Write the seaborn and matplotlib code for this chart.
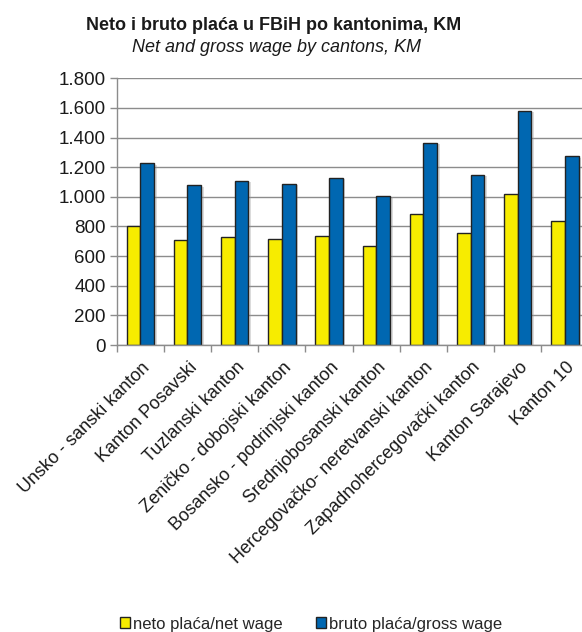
import seaborn as sns
import numpy as np
import matplotlib
matplotlib.use("Agg")
import matplotlib.pyplot as plt
import matplotlib.patheffects as pe
import matplotlib.transforms as mtransforms
from matplotlib.patches import Patch
from matplotlib.ticker import FuncFormatter
import pandas as pd

kantoni = ["Unsko - sanski kanton", "Kanton Posavski", "Tuzlanski kanton",
           "Zeničko - dobojski kanton", "Bosansko - podrinjski kanton",
           "Srednjobosanski kanton", "Hercegovačko- neretvanski kanton",
           "Zapadnohercegovački kanton", "Kanton Sarajevo", "Kanton 10"]
neto = [805, 706, 729, 713, 738, 670, 886, 756, 1021, 837]
bruto = [1226, 1078, 1109, 1087, 1129, 1008, 1363, 1149, 1581, 1273]
serije = ["neto plaća/net wage", "bruto plaća/gross wage"]
boje = ["#F7EC00", "#0067B1"]

df = pd.DataFrame({
    "kanton": kantoni * 2,
    "vrijednost": neto + bruto,
    "serija": [serije[0]] * len(kantoni) + [serije[1]] * len(kantoni),
})

sns.set_style("white")
plt.rcParams['font.family'] = ['Liberation Sans', 'DejaVu Sans']

fig = plt.figure(figsize=(5.82, 6.32), dpi=100)
ax = fig.add_axes((0.2005, 0.4541, 0.8107, 0.4221))

sns.barplot(data=df, x="kanton", y="vrijednost", hue="serija",
            palette=boje, saturation=1, width=0.58, edgecolor="#222222",
            linewidth=1.0, ax=ax, legend=False)

# blaga sjena iza stupaca
for p in ax.patches:
    p.set_path_effects([pe.SimplePatchShadow(offset=(2, -1), shadow_rgbFace="#999999", alpha=0.35),
                        pe.Normal()])

ax.set_ylim(0, 1800)
ax.set_xlim(-0.5, len(kantoni) - 0.5)
ax.set_yticks(np.arange(0, 1801, 200))
ax.yaxis.set_major_formatter(FuncFormatter(lambda v, _: f"{int(v):,}".replace(",", ".")))
ax.yaxis.grid(True, color="#8c8c8c", linewidth=1.0)
ax.set_axisbelow(True)
ax.set_xlabel("")
ax.set_ylabel("")

for s in ["top", "right"]:
    ax.spines[s].set_visible(False)
for s in ["left", "bottom"]:
    ax.spines[s].set_color("#8c8c8c")
    ax.spines[s].set_linewidth(1.0)

ax.tick_params(axis="y", left=True, length=5, width=1, color="#8c8c8c",
               labelsize=13.5, pad=3, labelcolor="#1a1a1a")
ax.set_xticks(np.arange(-0.5, len(kantoni), 1.0), minor=True)
ax.tick_params(axis="x", which="minor", bottom=True, length=5, width=1, color="#8c8c8c")
ax.tick_params(axis="x", which="major", bottom=False, length=0, pad=10)
ax.set_xticks(range(len(kantoni)))
ax.set_xticklabels(kantoni, rotation=45, ha="right", rotation_mode="anchor",
                   fontsize=13, color="#1a1a1a")
pomak = mtransforms.ScaledTranslation(1 / 100, 0, fig.dpi_scale_trans)
for lbl in ax.get_xticklabels():
    lbl.set_transform(lbl.get_transform() + pomak)

fig.text(274 / 582, 1 - 25 / 632, "Neto i bruto plaća u FBiH po kantonima, KM",
         ha="center", va="center", fontsize=13, fontweight="bold", color="#1a1a1a")
fig.text(277 / 582, 1 - 47.5 / 632, "Net and gross wage by cantons, KM",
         ha="center", va="center", fontsize=13, fontstyle="italic", color="#1a1a1a")

handles = [Patch(facecolor=c, edgecolor="#222222", linewidth=1.0) for c in boje]
fig.legend(handles, serije, loc="center", bbox_to_anchor=(311 / 582, 8 / 632),
           ncol=2, frameon=False, fontsize=12, handlelength=0.6, handleheight=0.6,
           handletextpad=0.2, columnspacing=2.0)

fig.savefig("out.png", dpi=100)
plt.close()
